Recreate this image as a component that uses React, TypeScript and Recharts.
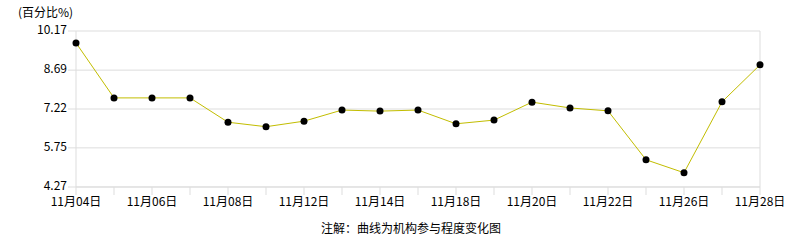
import { CartesianGrid, Line, LineChart, ReferenceLine, XAxis, YAxis } from "recharts";

const dates = [
  "11月04日", "11月05日", "11月06日", "11月07日", "11月08日",
  "11月11日", "11月12日", "11月13日", "11月14日", "11月15日",
  "11月18日", "11月19日", "11月20日", "11月21日", "11月22日",
  "11月25日", "11月26日", "11月27日", "11月28日",
];

const participation = [
  9.72, 7.64, 7.64, 7.64, 6.72,
  6.55, 6.76, 7.18, 7.14, 7.18,
  6.66, 6.8, 7.48, 7.26, 7.15,
  5.3, 4.81, 7.49, 8.89,
];

const yTicks = [4.27, 5.75, 7.22, 8.69, 10.17];

const data = dates.map((date, i) => ({ date, value: participation[i] }));

const font = '"Noto Sans CJK SC", "Noto Sans", sans-serif';

export default function App() {
  return (
    <div style={{ position: "absolute", left: 0, top: 0, width: 786, height: 240, fontFamily: font, background: "#fff" }}>
      <LineChart width={786} height={240} data={data} margin={{ top: 31, right: 26, left: 0, bottom: 33 }}>
        <CartesianGrid vertical={false} stroke="#dddddd" />
        <XAxis
          dataKey="date"
          interval={0}
          height={20}
          tickSize={8}
          tickMargin={2}
          axisLine={{ stroke: "#dddddd" }}
          tickLine={{ stroke: "#dddddd" }}
          tick={{ fontSize: 12, fill: "#000", fontFamily: font }}
          tickFormatter={(v: string, i: number) => (i % 2 === 0 ? v : "")}
        />
        <YAxis
          width={76}
          domain={[4.27, 10.17]}
          ticks={yTicks}
          tickSize={8}
          tickMargin={1}
          axisLine={{ stroke: "#dddddd" }}
          tickLine={{ stroke: "#dddddd" }}
          tick={{ fontSize: 12, fill: "#000", fontFamily: font, dy: -1 }}
          tickFormatter={(v: number) => v.toFixed(2)}
        />
        <ReferenceLine x="11月28日" stroke="#dddddd" />
        <Line
          type="linear"
          dataKey="value"
          stroke="#c2bd00"
          strokeWidth={1}
          dot={{ fill: "#000", stroke: "none", r: 3.5 }}
          activeDot={false}
          isAnimationActive={false}
        />
      </LineChart>
      <div style={{ position: "absolute", left: 18, top: 3, fontSize: 12, color: "#000" }}>(百分比%)</div>
      <div style={{ position: "absolute", left: 0, width: 822, top: 219, fontSize: 12, color: "#000", textAlign: "center" }}>
        注解：曲线为机构参与程度变化图
      </div>
    </div>
  );
}
